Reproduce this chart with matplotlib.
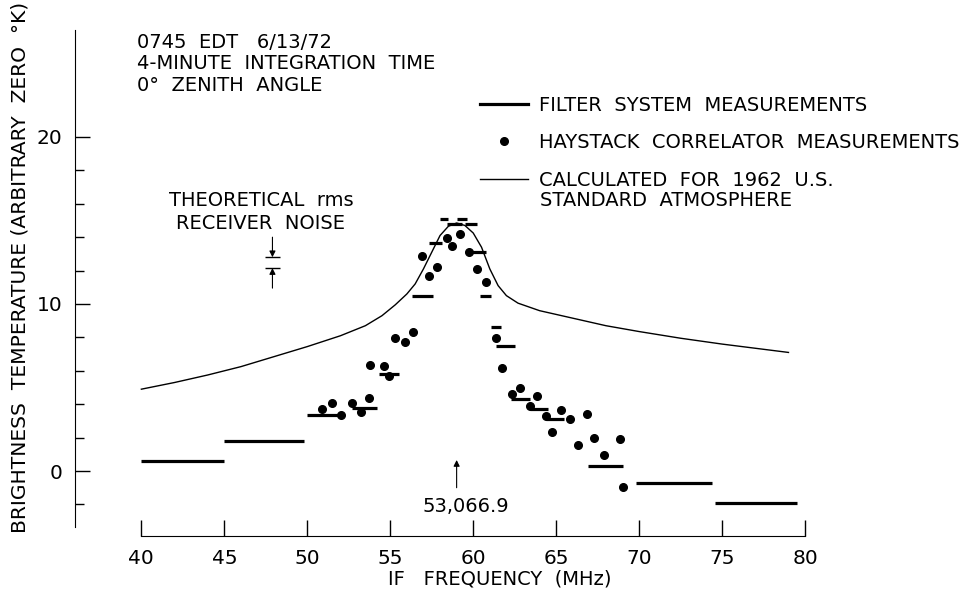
import matplotlib
matplotlib.use("Agg")
import matplotlib.pyplot as plt
from matplotlib.lines import Line2D

# Filter system measurements: (start MHz, end MHz, temperature)
filter_x0 = [40.0, 45.0, 50.0, 52.7, 54.3, 56.3, 57.35, 58.0, 58.4, 59.0, 59.5, 59.9, 60.4, 61.1, 61.4,
             62.3, 63.4, 64.4, 66.9, 69.8, 74.6]
filter_x1 = [45.0, 49.8, 52.0, 54.2, 55.5, 57.6, 58.1, 58.5, 59.3, 59.6, 60.2, 60.8, 61.1, 61.7, 62.5,
             63.4, 64.5, 65.5, 69.0, 74.4, 79.5]
filter_y = [0.6, 1.8, 3.35, 3.8, 5.8, 10.5, 13.65, 15.1, 14.8, 15.1, 14.8, 13.1, 10.5, 8.6, 7.5,
            4.3, 3.7, 3.1, 0.3, -0.7, -1.9]

# Haystack correlator measurements
hay_x = [50.9, 51.5, 52.05, 52.7, 53.25, 53.7, 53.8, 54.6, 54.9, 55.3, 55.9, 56.4,
         56.9, 57.35, 57.8, 58.4, 58.75, 59.2, 59.75, 60.2, 60.8, 61.4, 61.75,
         62.35, 62.8, 63.4, 63.85, 64.4, 64.75, 65.3, 65.85, 66.3, 66.85, 67.3, 67.9, 68.85, 69.0]
hay_y = [3.7, 4.05, 3.35, 4.1, 3.55, 4.4, 6.35, 6.3, 5.7, 7.95, 7.7, 8.3,
         12.9, 11.7, 12.2, 13.95, 13.45, 14.2, 13.1, 12.1, 11.3, 7.95, 6.15,
         4.6, 4.95, 3.9, 4.5, 3.3, 2.35, 3.65, 3.1, 1.55, 3.4, 1.95, 0.95, 1.9, -0.95]

# Calculated for 1962 U.S. standard atmosphere
calc_x = [40.0, 42.0, 44.0, 46.0, 48.0, 50.0, 52.0, 53.5, 54.5, 55.3, 56.0, 56.5, 57.0, 57.5,
          58.0, 58.5, 59.0, 59.5, 60.0, 60.5, 61.0, 61.5, 62.0, 62.7, 64.0, 66.0, 68.0, 70.0,
          72.5, 75.0, 77.0, 79.0]
calc_y = [4.9, 5.3, 5.75, 6.25, 6.85, 7.45, 8.1, 8.7, 9.3, 9.95, 10.6, 11.2, 12.1, 13.1,
          14.1, 14.65, 14.85, 14.7, 14.25, 13.4, 12.1, 11.1, 10.5, 10.05, 9.6, 9.15, 8.7, 8.35,
          7.95, 7.6, 7.35, 7.1]

# rms noise marker and rest frequency marker
noise_x = 47.9
noise_hi = 12.8
noise_lo = 12.15
rest_x = 59.0
rest_label = "53,066.9"

x_ticks = [40, 45, 50, 55, 60, 65, 70, 75, 80]
y_ticks = [0, 10, 20]
y_minor = [-2, 2, 4, 6, 8, 12, 14, 16, 18]

plt.rcParams['font.family'] = ['DejaVu Sans']
fig = plt.figure(figsize=(9.71, 5.91), dpi=100)
ax = fig.add_axes([75 / 971, 55 / 591, 896 / 971, 536 / 591])
ax.set_xlim(36, 90)
ax.set_ylim(-3.89, 28.2)

ax.hlines(filter_y, filter_x0, filter_x1, color='black', linewidth=2.3)
ax.plot(hay_x, hay_y, 'o', color='black', markersize=5.5, linestyle='none')
ax.plot(calc_x, calc_y, color='black', linewidth=1.0)

# theoretical rms receiver noise marker
arrow = dict(arrowstyle='-|>', color='black', lw=0.8, mutation_scale=9, shrinkA=0, shrinkB=0)
ax.hlines([noise_hi, noise_lo], noise_x - 0.45, noise_x + 0.45, color='black', linewidth=1.0)
ax.annotate('', xy=(noise_x, noise_hi), xytext=(noise_x, noise_hi + 1.2), arrowprops=arrow)
ax.annotate('', xy=(noise_x, noise_lo), xytext=(noise_x, noise_lo - 1.2), arrowprops=arrow)
ax.text(47.2, 15.5, "THEORETICAL  rms\nRECEIVER  NOISE", ha='center', va='center',
        fontsize=14, linespacing=1.25)

ax.annotate('', xy=(rest_x, 0.66), xytext=(rest_x, -1.0), arrowprops=arrow)
ax.text(rest_x + 0.55, -2.1, rest_label, ha='center', va='center', fontsize=14)

ax.text(39.76, 26.25, "0745  EDT   6/13/72\n4-MINUTE  INTEGRATION  TIME\n0°  ZENITH  ANGLE",
        ha='left', va='top', fontsize=14, linespacing=1.17)

# spines and ticks
ax.spines['top'].set_visible(False)
ax.spines['right'].set_visible(False)
ax.spines['left'].set_bounds(-3.35, 26.4)
ax.spines['bottom'].set_bounds(40, 80)
ax.set_xticks(x_ticks)
ax.set_yticks(y_ticks)
ax.set_yticks(y_minor, minor=True)
ax.tick_params(axis='x', direction='in', length=11.5, width=1, labelsize=14.5, pad=9)
ax.tick_params(axis='y', which='major', direction='in', length=11, width=1, labelsize=14.5, pad=9)
ax.tick_params(axis='y', which='minor', direction='in', length=6.5, width=1)

fig.text(500 / 971, 1 - 579 / 591, "IF   FREQUENCY  (MHz)", ha='center', va='center', fontsize=14)
fig.text(20 / 971, 1 - 267 / 591, "BRIGHTNESS  TEMPERATURE (ARBITRARY  ZERO  °K)",
         ha='center', va='center', rotation=90, fontsize=14.6)

handles = [Line2D([], [], color='black', linewidth=2.3),
           Line2D([], [], color='black', marker='o', markersize=5.5, linestyle='none'),
           Line2D([], [], color='black', linewidth=1.0)]
labels = ["FILTER  SYSTEM  MEASUREMENTS",
          "HAYSTACK  CORRELATOR  MEASUREMENTS",
          "CALCULATED  FOR  1962  U.S."]
ax.legend(handles, labels, loc='upper left', bbox_to_anchor=(470 / 971, 1 - 86 / 591),
          bbox_transform=fig.transFigure, frameon=False, fontsize=14, handlelength=2.5,
          handletextpad=0.57, labelspacing=0.95, borderpad=0)
fig.text(540 / 971, 1 - 200 / 591, "STANDARD  ATMOSPHERE", ha='left', va='center', fontsize=14)

fig.savefig("out.png", dpi=100)
